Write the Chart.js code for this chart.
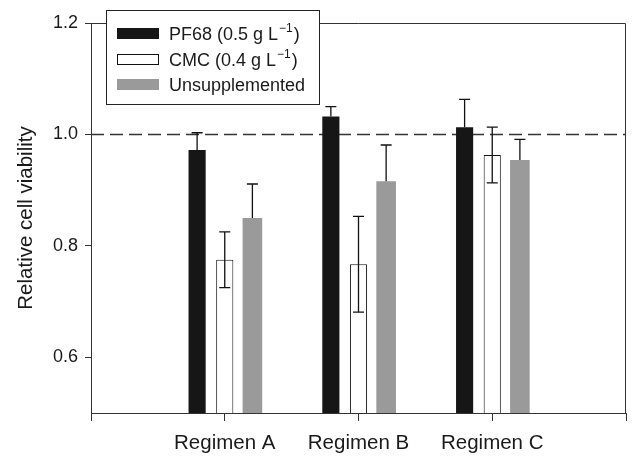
<!DOCTYPE html>
<html>
<head>
<meta charset="utf-8">
<script src="https://cdn.jsdelivr.net/npm/chart.js@4.4.1/dist/chart.umd.min.js"></script>
<style>
  html, body { margin: 0; padding: 0; background: #fff; }
</style>
</head>
<body>
<canvas id="viabilityChart" width="636" height="458"></canvas>
<script>
// categories (empty ends give the axis its outer tick marks)
const regimens = ['', 'Regimen A', 'Regimen B', 'Regimen C', ''];

const pf68Values = [null, 0.972, 1.032, 1.013, null];
const pf68Errors = [null, 0.031, 0.018, 0.050, null];
const cmcValues = [null, 0.775, 0.767, 0.963, null];
const cmcErrors = [null, 0.050, 0.086, 0.050, null];
const unsupValues = [null, 0.850, 0.916, 0.954, null];
const unsupErrors = [null, 0.061, 0.065, 0.037, null];

const yTicks = [0.6, 0.8, 1.0, 1.2];
const referenceLevel = 1.0;

const FONT = 'Liberation Sans, Arial, Helvetica, sans-serif';
const INK = '#1a1a1a';

// error bars: upward for filled bars, both ways for the open bar
const errorBars = {
    id: 'errorBars',
    afterDatasetsDraw(chart) {
        const ctx = chart.ctx;
        const y = chart.scales.y;
        ctx.save();
        ctx.strokeStyle = '#111';
        ctx.lineWidth = 1.3;
        chart.data.datasets.forEach((ds, i) => {
            const meta = chart.getDatasetMeta(i);
            meta.data.forEach((bar, j) => {
                const v = ds.data[j];
                const e = ds.errors[j];
                if (v == null || e == null) return;
                const x = bar.x;
                const top = y.getPixelForValue(v + e);
                const from = ds.bothWays ? y.getPixelForValue(v - e) : y.getPixelForValue(v);
                ctx.beginPath();
                ctx.moveTo(x, from);
                ctx.lineTo(x, top);
                ctx.moveTo(x - 5.5, top);
                ctx.lineTo(x + 5.5, top);
                if (ds.bothWays) {
                    ctx.moveTo(x - 5.5, from);
                    ctx.lineTo(x + 5.5, from);
                }
                ctx.stroke();
            });
        });
        ctx.restore();
    }
};

// dashed line at 1.0 and the box around the plot
const frameAndReference = {
    id: 'frameAndReference',
    beforeDatasetsDraw(chart) {
        const {ctx, chartArea: a} = chart;
        const yy = chart.scales.y.getPixelForValue(referenceLevel);
        ctx.save();
        ctx.strokeStyle = '#333';
        ctx.lineWidth = 1.4;
        ctx.setLineDash([13, 6]);
        ctx.beginPath();
        ctx.moveTo(a.left, yy);
        ctx.lineTo(a.right, yy);
        ctx.stroke();
        ctx.restore();
    },
    afterDraw(chart) {
        const {ctx, chartArea: a} = chart;
        ctx.save();
        ctx.strokeStyle = '#333';
        ctx.lineWidth = 1;
        ctx.beginPath();
        ctx.moveTo(a.left, a.top + 0.5);
        ctx.lineTo(a.right - 0.5, a.top + 0.5);
        ctx.lineTo(a.right - 0.5, a.bottom);
        ctx.stroke();
        ctx.restore();
    }
};

// boxed legend inside the plot, with a real superscript
const boxedLegend = {
    id: 'boxedLegend',
    afterDraw(chart) {
        const ctx = chart.ctx;
        const bx = 106, by = 10, bw = 213, bh = 94;
        const rows = [33.5, 59.5, 84.5];
        ctx.save();
        ctx.fillStyle = '#fff';
        ctx.fillRect(bx, by, bw, bh);
        ctx.strokeStyle = '#222';
        ctx.lineWidth = 1;
        ctx.strokeRect(bx + 0.5, by + 0.5, bw, bh);
        chart.data.datasets.forEach((ds, i) => {
            const cy = rows[i];
            ctx.fillStyle = ds.backgroundColor;
            ctx.fillRect(117, cy - 5.5, 42, 11);
            if (ds.borderWidth) {
                ctx.strokeStyle = '#111';
                ctx.strokeRect(117.5, cy - 5, 41, 10);
            }
            ctx.fillStyle = INK;
            ctx.textBaseline = 'alphabetic';
            ctx.font = '18px ' + FONT;
            const parts = ds.label.split('⁻¹');
            const base = cy + 6.5;
            let x = 169;
            ctx.fillText(parts[0], x, base);
            if (parts.length > 1) {
                x += ctx.measureText(parts[0]).width;
                ctx.font = '12px ' + FONT;
                ctx.fillText('\u22121', x + 1, base - 8);
                x += ctx.measureText('\u22121').width + 2;
                ctx.font = '18px ' + FONT;
                ctx.fillText(parts[1], x, base);
            }
        });
        ctx.restore();
    }
};

new Chart(document.getElementById('viabilityChart'), {
    type: 'bar',
    data: {
        labels: regimens,
        datasets: [{
            label: 'PF68 (0.5 g L⁻¹)',
            data: pf68Values,
            errors: pf68Errors,
            backgroundColor: '#161616',
            borderWidth: 0,
            categoryPercentage: 0.62,
            barPercentage: 0.62
        }, {
            label: 'CMC (0.4 g L⁻¹)',
            data: cmcValues,
            errors: cmcErrors,
            bothWays: true,
            backgroundColor: '#ffffff',
            borderColor: '#111',
            borderWidth: 1,
            categoryPercentage: 0.62,
            barPercentage: 0.62
        }, {
            label: 'Unsupplemented',
            data: unsupValues,
            errors: unsupErrors,
            backgroundColor: '#9a9a9a',
            borderWidth: 0,
            categoryPercentage: 0.62,
            barPercentage: 0.71
        }]
    },
    options: {
        responsive: false,
        animation: false,
        layout: { padding: { top: 23, right: 2, left: 0, bottom: 0 } },
        plugins: {
            legend: { display: false },
            tooltip: { enabled: false }
        },
        scales: {
            x: {
                offset: false,
                afterFit: s => { s.height = 45; },
                border: { color: '#333', width: 1 },
                grid: { offset: false, drawOnChartArea: false, tickLength: 8, color: '#333' },
                ticks: { font: { family: FONT, size: 20.5 }, color: INK, padding: 10, maxRotation: 0, autoSkip: false }
            },
            y: {
                min: 0.5,
                max: 1.2,
                afterBuildTicks: s => { s.ticks = yTicks.map(v => ({ value: v })); },
                afterFit: s => { s.width = 91; },
                border: { color: '#333', width: 1 },
                grid: { drawOnChartArea: false, tickLength: 6, color: '#333' },
                ticks: { font: { family: FONT, size: 18 }, color: INK, padding: 7, callback: v => v.toFixed(1) },
                title: {
                    display: true,
                    text: 'Relative cell viability',
                    font: { family: FONT, size: 20.5 },
                    color: INK,
                    padding: { top: 14, bottom: 0 }
                }
            }
        }
    },
    plugins: [frameAndReference, errorBars, boxedLegend]
});
</script>
</body>
</html>
